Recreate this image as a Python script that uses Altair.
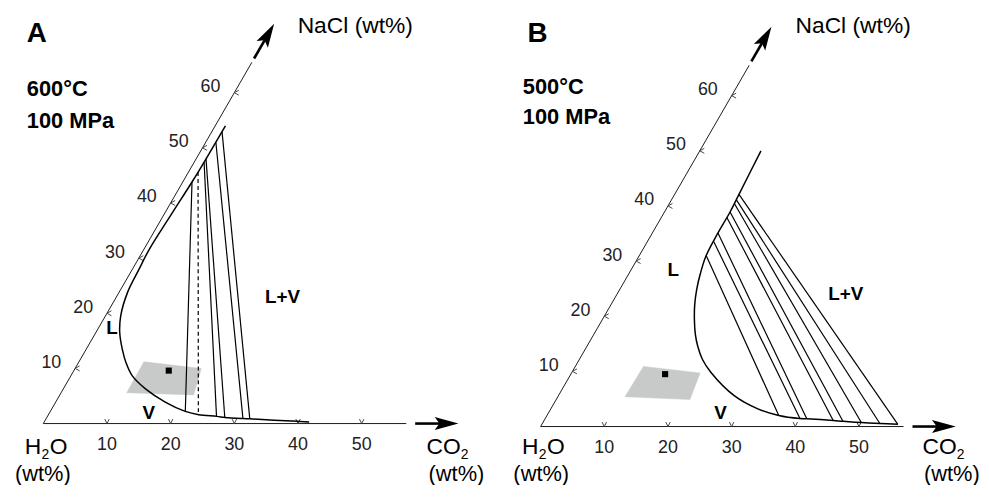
import altair as alt
import numpy as np
import pandas as pd

# ---------------- data: compositions in wt% (CO2, NaCl); H2O is the rest ----------------
co2_ticks = [10, 20, 30, 40, 50]
nacl_ticks = [10, 20, 30, 40, 50, 60]

# Panel A: 600 °C, 100 MPa
a_curve_co2 = [1.6, 1.55, 1.45, 1.15, 0.85, 1.05, 1.35, 2.4, 3.75, 5.65, 7.5, 9.6, 12.9,
               17.2, 21.2, 23.6, 26.6, 28.0, 30.9, 32.0, 39.7, 41.6]
a_curve_nacl = [54.0, 47.7, 43.8, 38.1, 31.5, 27.9, 23.7, 19.5, 16.5, 13.5, 11.0, 8.7, 6.3,
                3.9, 2.2, 1.6, 1.3, 1.1, 0.9, 0.85, 0.4, 0.3]
a_tie_top_co2 = [1.45, 1.5, 1.55, 1.55, 1.6, 1.62]
a_tie_top_nacl = [43.8, 45.6, 47.4, 48.0, 51.0, 52.9]
a_tie_bot_co2 = [21.2, 23.55, 26.55, 27.95, 30.9, 32.0]
a_tie_bot_nacl = [2.2, 1.6, 1.3, 1.1, 0.9, 0.85]
a_tie_dashed = [False, True, False, False, False, False]
a_incl_co2 = [10.2, 19.8, 21.0, 10.3]
a_incl_nacl = [11.2, 10.0, 5.2, 5.6]
a_point_co2 = [14.9]
a_point_nacl = [9.6]

# Panel B: 500 °C, 100 MPa
b_curve_co2 = [9.6, 10.1, 10.3, 10.3, 10.5, 11.2, 12.1, 13.15, 14.45, 15.95, 17.4, 19.3,
               21.8, 27.6, 32.4, 36.4, 40.0, 41.1, 45.4, 47.0, 50.0, 53.0, 55.9]
b_curve_nacl = [50.0, 42.1, 38.9, 35.1, 31.0, 27.8, 24.8, 22.1, 19.4, 16.7, 14.55, 12.2,
                9.85, 5.6, 3.25, 2.0, 1.45, 1.4, 1.1, 0.95, 0.72, 0.55, 0.4]
b_tie_top_co2 = [10.5, 10.45, 10.3, 10.3, 10.3, 10.25, 10.2, 10.1]
b_tie_top_nacl = [31.0, 33.5, 35.1, 37.9, 38.9, 40.4, 41.1, 42.1]
b_tie_bot_co2 = [36.4, 40.0, 41.1, 45.4, 47.0, 50.0, 53.0, 55.9]
b_tie_bot_nacl = [2.0, 1.45, 1.4, 1.1, 0.95, 0.72, 0.55, 0.4]
b_tie_dashed = [False] * 8
b_incl_co2 = [10.7, 20.2, 21.0, 10.55]
b_incl_nacl = [10.9, 9.7, 4.9, 5.4]
b_point_co2 = [14.8]
b_point_nacl = [9.5]

# ---------------- helpers ----------------
H = np.sqrt(3) / 2
FONT = "Liberation Sans"
CHEV_CO2 = "M-0.5,-1L0,0L0.5,-1"
CHEV_NACL = "M1,-0.55L0,0L1,0.55"
HEAD = "M0,0L-2,-0.55L-1.6,0L-2,0.55Z"

AX_C_END, AX_N_END = 57.0, 65.5          # thin axis ends (wt%)
SH_C = (58.4, 63.0); TIP_C = 65.2        # CO2 arrow
SH_N = (66.2, 70.0); TIP_N = 72.5        # NaCl arrow


def tern(c, n):
    c = np.atleast_1d(np.asarray(c, dtype=float))
    n = np.atleast_1d(np.asarray(n, dtype=float))
    return c + n / 2.0, n * H


def path_df(c, n):
    x, y = tern(c, n)
    return pd.DataFrame({"x": x, "y": y, "i": np.arange(len(x))})


def seg_df(c1, n1, c2, n2):
    x1, y1 = tern(c1, n1)
    x2, y2 = tern(c2, n2)
    return pd.DataFrame({"x": x1, "y": y1, "x2": x2, "y2": y2})


def make_panel(p, labels, xdom, ydom, width, height):
    xs = alt.Scale(domain=xdom, nice=False, zero=False)
    ys = alt.Scale(domain=ydom, nice=False, zero=False)
    X = alt.X("x:Q", scale=xs, axis=None)
    Y = alt.Y("y:Q", scale=ys, axis=None)
    X2 = alt.X2("x2")
    Y2 = alt.Y2("y2")
    layers = []

    layers.append(alt.Chart(path_df(p["incl_co2"], p["incl_nacl"])).mark_line(
        interpolate="linear-closed", fill="#c8c9c9", stroke="#c8c9c9", strokeWidth=0.5
    ).encode(x=X, y=Y, order="i:Q"))

    layers.append(alt.Chart(path_df(p["pt_co2"], p["pt_nacl"])).mark_square(
        size=38, color="black", opacity=1).encode(x=X, y=Y))

    layers.append(alt.Chart(seg_df([0, 0], [0, 0], [AX_C_END, 0], [0, AX_N_END])).mark_rule(
        color="#1a1a1a", strokeWidth=1).encode(x=X, y=Y, x2=X2, y2=Y2))

    layers.append(alt.Chart(path_df(co2_ticks, [0] * len(co2_ticks))).mark_point(
        shape=CHEV_CO2, size=81, filled=False, color="#444444", strokeWidth=1, opacity=1
    ).encode(x=X, y=Y))
    layers.append(alt.Chart(path_df([0] * len(nacl_ticks), nacl_ticks)).mark_point(
        shape=CHEV_NACL, size=81, filled=False, color="#444444", strokeWidth=1, opacity=1
    ).encode(x=X, y=Y))

    dc = path_df(co2_ticks, [0] * len(co2_ticks))
    dc["t"] = [str(v) for v in co2_ticks]
    layers.append(alt.Chart(dc).mark_text(font=FONT, fontSize=18, dy=27, align="center",
                                          baseline="alphabetic", color="#222222"
                                          ).encode(x=X, y=Y, text="t:N"))
    dn = path_df([0] * len(nacl_ticks), nacl_ticks)
    dn["t"] = [str(v) for v in nacl_ticks]
    layers.append(alt.Chart(dn).mark_text(font=FONT, fontSize=18, dx=-24, dy=-5.5, align="center",
                                          baseline="middle", color="#222222"
                                          ).encode(x=X, y=Y, text="t:N"))

    ties = seg_df(p["tt_c"], p["tt_n"], p["tb_c"], p["tb_n"])
    ties["dashed"] = p["dashed"]
    layers.append(alt.Chart(ties[~ties["dashed"]]).mark_rule(color="black", strokeWidth=1.2
                                                             ).encode(x=X, y=Y, x2=X2, y2=Y2))
    if ties["dashed"].any():
        layers.append(alt.Chart(ties[ties["dashed"]]).mark_rule(
            color="black", strokeWidth=1.2, strokeDash=[4, 3]).encode(x=X, y=Y, x2=X2, y2=Y2))

    layers.append(alt.Chart(path_df(p["curve_co2"], p["curve_nacl"])).mark_line(
        interpolate="catmull-rom", color="black", strokeWidth=1.5).encode(x=X, y=Y, order="i:Q"))

    layers.append(alt.Chart(seg_df([SH_C[0], 0], [0, SH_N[0]], [SH_C[1], 0], [0, SH_N[1]])).mark_rule(
        color="black", strokeWidth=2.6).encode(x=X, y=Y, x2=X2, y2=Y2))
    layers.append(alt.Chart(path_df([TIP_C], [0])).mark_point(
        shape=HEAD, size=576, filled=True, color="black", opacity=1, angle=0).encode(x=X, y=Y))
    layers.append(alt.Chart(path_df([0], [TIP_N])).mark_point(
        shape=HEAD, size=576, filled=True, color="black", opacity=1, angle=300).encode(x=X, y=Y))

    lab = pd.DataFrame(labels, columns=["t", "x", "y", "size", "weight", "align"])
    for (w, a), sub in lab.groupby(["weight", "align"]):
        layers.append(alt.Chart(sub).mark_text(font=FONT, fontWeight=w, align=a, clip=True,
                                               baseline="alphabetic", color="black"
                                               ).encode(x=X, y=Y, text="t:N",
                                                        size=alt.Size("size:Q", scale=None)))

    return alt.layer(*layers).properties(width=width, height=height)


pA = dict(curve_co2=a_curve_co2, curve_nacl=a_curve_nacl, tt_c=a_tie_top_co2, tt_n=a_tie_top_nacl,
          tb_c=a_tie_bot_co2, tb_n=a_tie_bot_nacl, dashed=a_tie_dashed,
          incl_co2=a_incl_co2, incl_nacl=a_incl_nacl, pt_co2=a_point_co2, pt_nacl=a_point_nacl)
pB = dict(curve_co2=b_curve_co2, curve_nacl=b_curve_nacl, tt_c=b_tie_top_co2, tt_n=b_tie_top_nacl,
          tb_c=b_tie_bot_co2, tb_n=b_tie_bot_nacl, dashed=b_tie_dashed,
          incl_co2=b_incl_co2, incl_nacl=b_incl_nacl, pt_co2=b_point_co2, pt_nacl=b_point_nacl)

# annotation placements (chart units)
labA = [
    ("A", -2.59, 59.97, 28, "bold", "left"),
    ("600°C", -2.59, 51.40, 22, "bold", "left"),
    ("100 MPa", -2.59, 46.42, 22, "bold", "left"),
    ("L", 9.88, 14.02, 19, "bold", "left"),
    ("V", 15.56, 0.78, 19, "bold", "left"),
    ("L+V", 34.8, 19.0, 19, "bold", "left"),
    ("NaCl (wt%)", 39.94, 61.26, 23, "normal", "left"),
    ("H", -0.33, -4.75, 23, "normal", "right"),
    ("2", -0.28, -5.55, 14, "normal", "left"),
    ("O", 1.01, -4.75, 23, "normal", "left"),
    ("(wt%)", -4.45, -9.1, 22, "normal", "left"),
    ("CO", 60.19, -4.75, 23, "normal", "left"),
    ("2", 65.56, -5.55, 14, "normal", "left"),
    ("(wt%)", 60.5, -9.1, 22, "normal", "left"),
]
labB = [
    ("B", -2.07, 60.44, 28, "bold", "left"),
    ("500°C", -2.80, 52.23, 22, "bold", "left"),
    ("100 MPa", -2.80, 47.51, 22, "bold", "left"),
    ("L", 19.93, 23.57, 19, "bold", "left"),
    ("V", 27.26, 1.25, 19, "bold", "left"),
    ("L+V", 45.17, 19.94, 19, "bold", "left"),
    ("NaCl (wt%)", 40.03, 61.73, 23, "normal", "left"),
    ("H", -0.33, -4.35, 23, "normal", "right"),
    ("2", -0.28, -5.1, 14, "normal", "left"),
    ("O", 1.01, -4.35, 23, "normal", "left"),
    ("(wt%)", -4.28, -8.63, 22, "normal", "left"),
    ("CO", 59.97, -4.35, 23, "normal", "left"),
    ("2", 65.34, -5.1, 14, "normal", "left"),
    ("(wt%)", 60.2, -8.63, 22, "normal", "left"),
]

HGT = 479
panelA = make_panel(pA, labA, [-5.545, 70.467], [(417 - HGT) / 6.42, 64.953], 488, HGT)
panelB = make_panel(pB, labB, [-7.632, 69.159], [(420 - HGT) / 6.42, 65.421], 493, HGT)

chart = alt.hconcat(panelA, panelB, spacing=0, bounds="flush").properties(
    padding=0
).configure_view(strokeWidth=0)

chart.save("out.html", embed_options={"renderer": "svg", "actions": False})
